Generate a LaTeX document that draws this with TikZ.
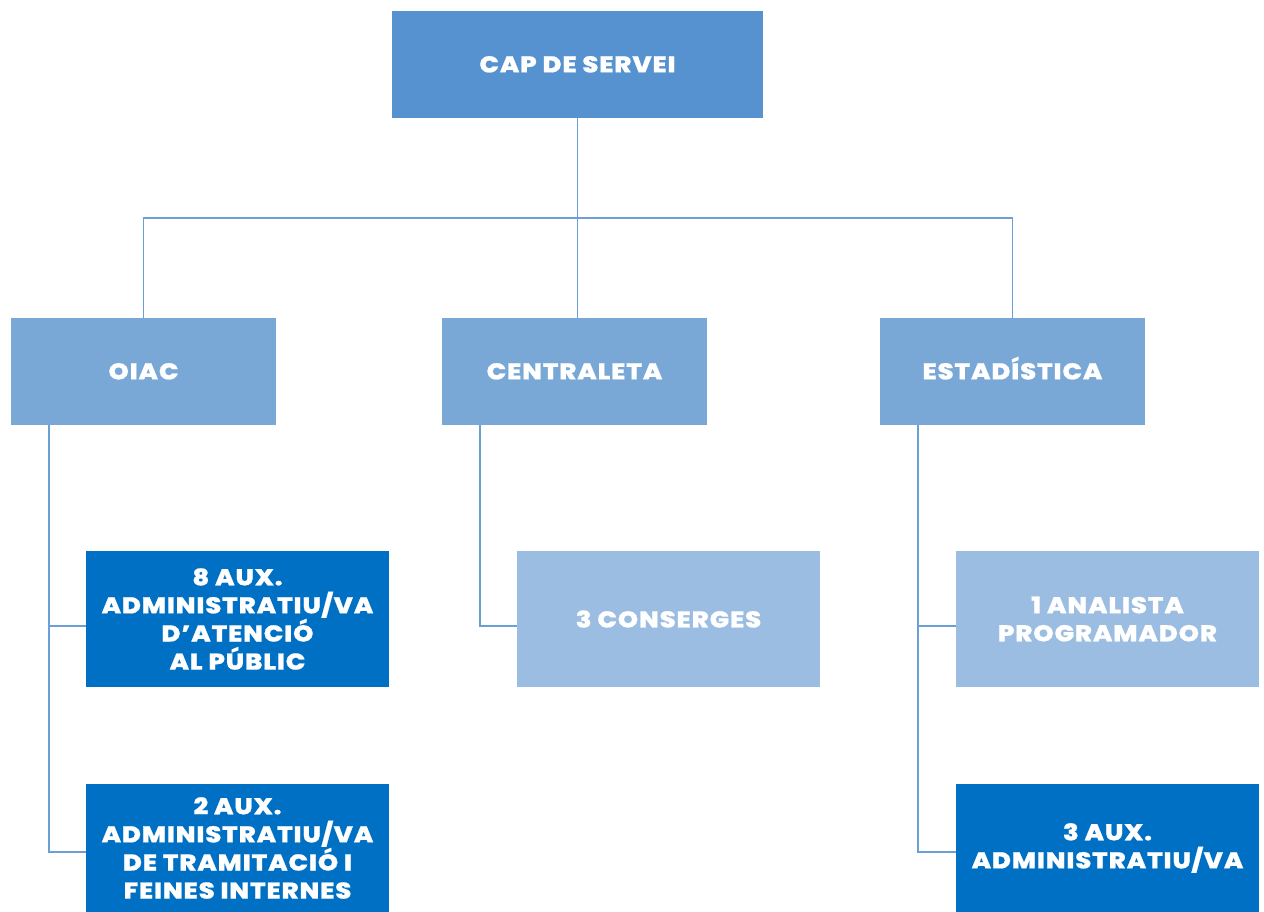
\documentclass[tikz,border=0pt]{standalone}
\usepackage{fontspec}
\setmainfont{Poppins}
\newfontfamily\orgfont{Poppins ExtraBold}[FakeStretch=1.13, LetterSpace=4, FakeBold=0.8]
\usepackage{tikz}
\usetikzlibrary{positioning}
\definecolor{capblue}{HTML}{5592CF}
\definecolor{midblue}{HTML}{79A8D7}
\definecolor{darkblue}{HTML}{0070C4}
\definecolor{paleblue}{HTML}{9BBDE1}
\definecolor{linkblue}{HTML}{6A9FD8}
\tikzset{
  orgbox/.style={rectangle, inner sep=0pt, text=white, align=center,
    font=\orgfont\fontsize{13}{16}\selectfont},
  headbox/.style={orgbox, fill=capblue, minimum width=7.42cm, minimum height=2.14cm,
    text height=9pt, text depth=0pt},
  unitbox/.style={orgbox, fill=midblue, minimum width=5.3cm, minimum height=2.14cm,
    text height=9pt, text depth=0pt},
  staffbox/.style={orgbox, minimum width=6.06cm},
  link/.style={draw=linkblue, line width=0.7pt}
}

\begin{document}
\begin{tikzpicture}[x=0.02cm, y=-0.02cm]
\useasboundingbox (0,0) rectangle (1264,912);
% top level
\node[headbox] (cap) at (577.5,64.5) {CAP DE SERVEI};
% units
\node[unitbox] (oiac) at (143.5,371.5) {OIAC};
\node[unitbox] (centraleta) at (574.5,371.5) {CENTRALETA};
\node[unitbox] (estadistica) at (1012.5,371.5) {ESTADÍSTICA};
% staff
\node[staffbox, fill=darkblue, minimum height=2.72cm] (aux8) at (237.5,619)
  {8 AUX.\\ADMINISTRATIU/VA\\D’ATENCIÓ\\AL PÚBLIC};
\node[staffbox, fill=darkblue, minimum height=2.56cm] (aux2) at (237.5,848)
  {2 AUX.\\ADMINISTRATIU/VA\\DE TRAMITACIÓ I\\FEINES INTERNES};
\node[staffbox, fill=paleblue, minimum height=2.72cm] (conserges) at (668.5,619)
  {3 CONSERGES};
\node[staffbox, fill=paleblue, minimum height=2.72cm] (analista) at (1107.5,619)
  {1 ANALISTA\\PROGRAMADOR};
\node[staffbox, fill=darkblue, minimum height=2.56cm] (aux3) at (1107.5,848)
  {3 AUX.\\ADMINISTRATIU/VA};
% connectors
\coordinate (bus) at (577.5,218);
\draw[link] (cap.south) -- (bus) -- (centraleta.north -| bus);
\draw[link] (oiac.north) |- (bus) -| (estadistica.north);
\coordinate (oiacstem) at (49,425);
\coordinate (centstem) at (480,425);
\coordinate (estastem) at (918,425);
\draw[link] (oiacstem) |- ([yshift=-7*0.02cm]aux8.west);
\draw[link] (oiacstem) |- ([yshift=-4*0.02cm]aux2.west);
\draw[link] (centstem) |- ([yshift=-7*0.02cm]conserges.west);
\draw[link] (estastem) |- ([yshift=-7*0.02cm]analista.west);
\draw[link] (estastem) |- ([yshift=-4*0.02cm]aux3.west);
\end{tikzpicture}
\end{document}
